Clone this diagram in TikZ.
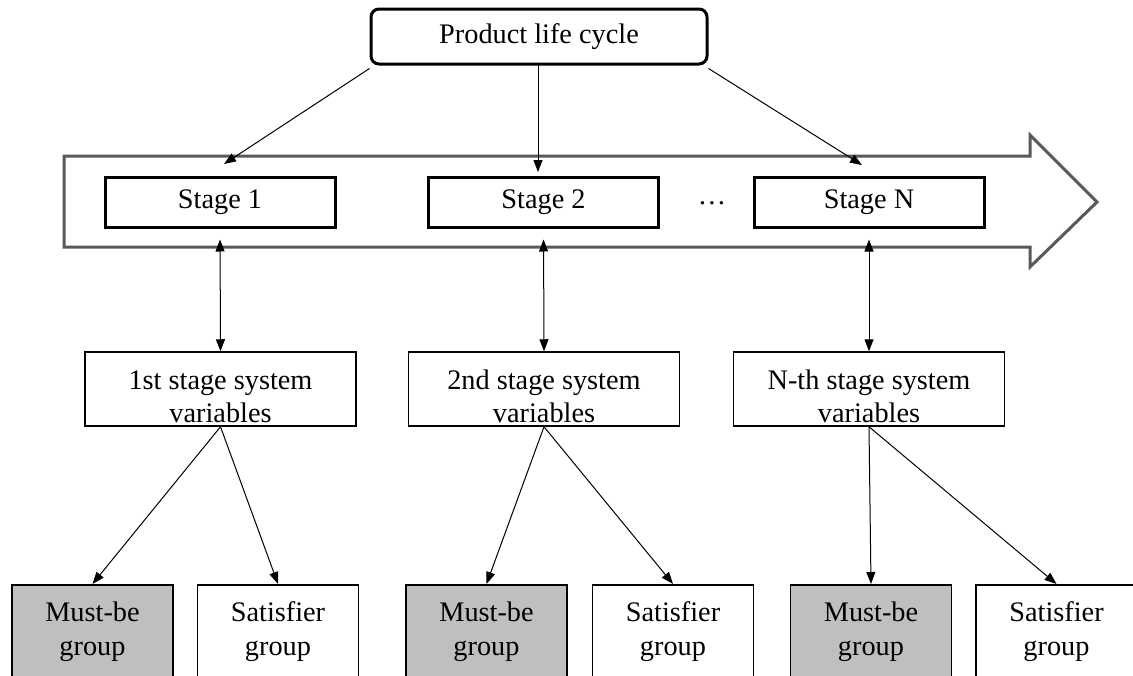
\documentclass[tikz,border=0pt]{standalone}
\usepackage{fontspec}
\setmainfont{Liberation Serif}
\usetikzlibrary{arrows.meta}
\definecolor{flowgray}{HTML}{595959}
\definecolor{mustfill}{HTML}{BFBFBF}
\newcommand{\toppad}{\rule{0pt}{34pt}}
\begin{document}
\begin{tikzpicture}[x=1pt,y=-1pt,
  font=\fontsize{28.3}{34}\selectfont,
  headbox/.style={draw,line width=3pt,rounded corners=8pt,minimum width=336pt,minimum height=55pt,inner sep=0pt},
  stagebox/.style={draw,line width=3pt,minimum width=230pt,minimum height=50pt,inner sep=0pt},
  varbox/.style={draw,line width=1.5pt,minimum width=271pt,minimum height=74pt,inner sep=0pt,align=center,font=\fontsize{28.3}{33}\selectfont},
  groupbox/.style={draw,line width=1.5pt,minimum width=161pt,minimum height=94pt,inner sep=0pt,align=center,anchor=north},
  mustbox/.style={groupbox,fill=mustfill},
  link/.style={line width=1pt,-{Triangle[length=12pt,width=9pt]}},
  twoway/.style={line width=1pt,{Triangle[length=12pt,width=9pt]}-{Triangle[length=12pt,width=9pt]}}]
\useasboundingbox (0,0) rectangle (1133,675);

% life-cycle flow arrow behind the stages
\draw[flowgray,line width=3pt,line join=miter]
  (64,156) -- (1030,156) -- (1030,135) -- (1097,202) -- (1030,267) -- (1030,247) -- (64,247) -- cycle;

% top node
\node[headbox] (plc) at (539,36.5) {Product life cycle};

% stages
\node[stagebox] (st1) at (220,202) {Stage 1};
\node[stagebox] (st2) at (543.5,202) {Stage 2};
\node[stagebox] (stN) at (869,202) {Stage N};
\node (dots) at (712,203) {\textellipsis};

% arrow end points on the flow band
\coordinate (e1) at (224,164);
\coordinate (e2) at (538,172);
\coordinate (eN) at (862,165);
\coordinate (b2) at (538,64);

\draw[link] (plc.south west) ++(0,3) -- (e1);
\draw[link] (b2) -- (e2);
\draw[link] (plc.south east) ++(0,3) -- (eN);

% system variables per stage
\node[varbox] (v1) at (220.5,389) {\toppad 1st stage system\\variables};
\node[varbox] (v2) at (544,389) {\toppad 2nd stage system\\variables};
\node[varbox] (vN) at (869,389) {\toppad N-th stage system\\variables};

\draw[twoway,shorten <=11pt] (st1.south) -- (v1.north);
\draw[twoway,shorten <=11pt] (st2.south) -- (v2.north);
\draw[twoway,shorten <=11pt] (stN.south) -- (vN.north);

% requirement groups
\node[mustbox] (m1) at (92.5,584) {Must-be\\group};
\node[groupbox] (s1) at (278,584) {Satisfier\\group};
\node[mustbox] (m2) at (486.5,584) {Must-be\\group};
\node[groupbox] (s2) at (673,584) {Satisfier\\group};
\node[mustbox] (mN) at (871,584) {Must-be\\group};
\node[groupbox] (sN) at (1056.5,584) {Satisfier\\group};

\draw[link] (v1.south) -- (m1.north);
\draw[link] (v1.south) -- (s1.north);
\draw[link] (v2.south) -- (m2.north);
\draw[link] (v2.south) -- (s2.north);
\draw[link] (vN.south) -- (mN.north);
\draw[link] (vN.south) -- (sN.north);
\end{tikzpicture}
\end{document}
